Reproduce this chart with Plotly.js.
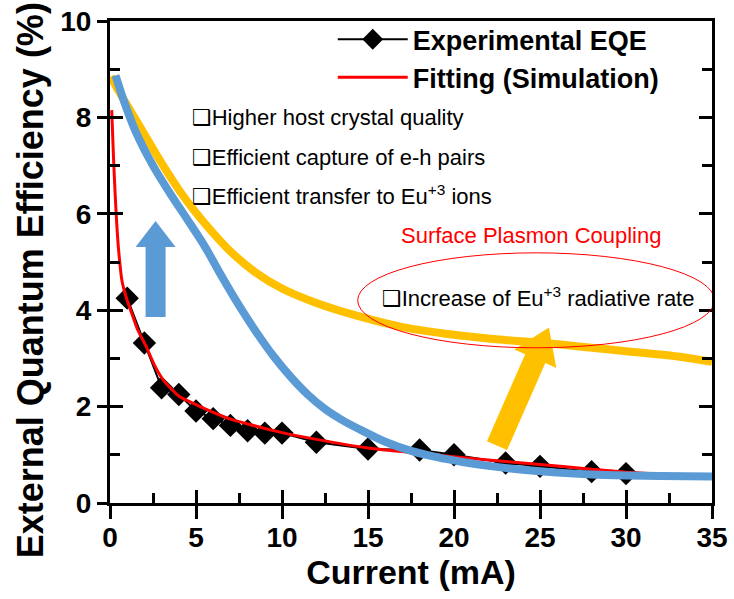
<!DOCTYPE html>
<html>
<head>
<meta charset="utf-8">
<script src="https://cdn.plot.ly/plotly-3.0.1.min.js"></script>
<style>
  html, body { margin: 0; padding: 0; background: #ffffff; }
  #chart { width: 734px; height: 599px; }
</style>
</head>
<body>
<div id="chart"></div>
<script>
// Measured external quantum efficiency vs drive current
const currentMA = [1, 2, 3, 4, 5, 6, 7, 8, 9, 10, 12, 15, 18, 20, 23, 25, 28, 30];
const eqeMeasured = [4.25, 3.32, 2.39, 2.25, 1.91, 1.75, 1.61, 1.50, 1.45, 1.45, 1.26, 1.12, 1.10, 1.00, 0.83, 0.76, 0.65, 0.61];

// Simulated fit through the measured points
const fitCurrent = [0.1, 0.2, 0.3, 0.4, 0.5, 0.7, 1, 1.3, 1.6, 2.1, 2.6, 3.1, 4, 5, 6, 7, 8, 10, 12, 15, 18, 20, 23, 25, 28, 30, 35];
const fitEqe = [8.15, 7.2, 6.4, 5.75, 5.25, 4.6, 4.2, 3.9, 3.6, 3.25, 2.85, 2.55, 2.22, 2.04, 1.88, 1.74, 1.64, 1.46, 1.32, 1.14, 1.03, 0.96, 0.86, 0.80, 0.70, 0.64, 0.56];

// Improved-host trend (blue) and plasmon-coupled trend (yellow)
const hostCurrent = [0.32, 0.8, 1.5, 2.5, 3.5, 4.5, 5.5, 6.5, 7.5, 8.5, 9.5, 10.5, 11.5, 12.5, 13.5, 14.5, 16, 17.5, 19, 20.5, 22, 24, 26, 28, 30, 32, 35];
const hostEqe = [8.87, 8.35, 7.7, 7.0, 6.42, 5.88, 5.33, 4.7, 4.1, 3.55, 3.05, 2.62, 2.25, 1.95, 1.72, 1.53, 1.27, 1.08, 0.95, 0.85, 0.77, 0.69, 0.63, 0.59, 0.57, 0.56, 0.55];
const plasmonCurrent = [0.05, 0.5, 1, 1.5, 2, 3, 4, 5, 6, 7, 8.4, 10, 12, 14.5, 17, 20, 23, 25.6, 28, 30, 33, 35];
const plasmonEqe = [8.85, 8.55, 8.25, 7.95, 7.65, 7.05, 6.5, 6.02, 5.6, 5.22, 4.8, 4.45, 4.15, 3.87, 3.65, 3.49, 3.38, 3.31, 3.22, 3.15, 3.04, 2.93];

const W = 734, H = 599;
const M = { l: 110, r: 22, t: 21, b: 96 };
const X_RANGE = [0, 35], Y_RANGE = [0, 10];
const pxPerX = (W - M.l - M.r) / (X_RANGE[1] - X_RANGE[0]);
const pxPerY = (H - M.t - M.b) / (Y_RANGE[1] - Y_RANGE[0]);

// Block arrow from tail to tip (data units); widths and head length in pixels.
function blockArrow(tail, tip, shaftW, headLen, headW) {
  const tx = tail[0] * pxPerX, ty = tail[1] * pxPerY;
  const hx = tip[0] * pxPerX, hy = tip[1] * pxPerY;
  const len = Math.hypot(hx - tx, hy - ty);
  const ux = (hx - tx) / len, uy = (hy - ty) / len;
  const nx = -uy, ny = ux;
  const bx = hx - ux * headLen, by = hy - uy * headLen;
  const pts = [
    [tx + nx * shaftW / 2, ty + ny * shaftW / 2],
    [bx + nx * shaftW / 2, by + ny * shaftW / 2],
    [bx + nx * headW / 2, by + ny * headW / 2],
    [hx, hy],
    [bx - nx * headW / 2, by - ny * headW / 2],
    [bx - nx * shaftW / 2, by - ny * shaftW / 2],
    [tx - nx * shaftW / 2, ty - ny * shaftW / 2]
  ];
  return pts.map((p, i) => (i ? 'L' : 'M') + (p[0] / pxPerX).toFixed(4) + ',' + (p[1] / pxPerY).toFixed(4)).join(' ') + ' Z';
}

const traces = [
  {
    x: currentMA, y: eqeMeasured, name: 'Experimental EQE',
    type: 'scatter', mode: 'lines+markers',
    line: { color: '#000000', width: 2 },
    marker: { symbol: 'diamond', size: 18, color: '#000000' }
  },
  {
    x: fitCurrent, y: fitEqe, name: 'Fitting (Simulation)',
    type: 'scatter', mode: 'lines',
    line: { color: '#ff0000', width: 3, shape: 'spline', smoothing: 0.6 }
  },
  {
    x: plasmonCurrent, y: plasmonEqe, name: 'Surface plasmon trend', showlegend: false,
    type: 'scatter', mode: 'lines', hoverinfo: 'skip',
    line: { color: '#ffc000', width: 8, shape: 'spline', smoothing: 0.8 }
  },
  {
    x: hostCurrent, y: hostEqe, name: 'Host quality trend', showlegend: false,
    type: 'scatter', mode: 'lines', hoverinfo: 'skip',
    line: { color: '#5b9bd5', width: 8, shape: 'spline', smoothing: 0.8 }
  },
  // empty trace that holds the inner tick axes
  { x: [null], y: [null], xaxis: 'x2', yaxis: 'y2', type: 'scatter', mode: 'lines',
    showlegend: false, hoverinfo: 'skip' }
];

const boldFont = { family: 'Liberation Sans, Arial, sans-serif', color: '#000000', weight: 'bold' };
const textFont = { family: 'Liberation Sans, Arial, sans-serif', color: '#000000', size: 22 };
const box = '<span style="font-family:DejaVu Sans">❑</span>';

const layout = {
  width: W, height: H,
  margin: M,
  paper_bgcolor: '#ffffff', plot_bgcolor: '#ffffff',
  font: { family: 'Liberation Sans, Arial, sans-serif', color: '#000000' },
  showlegend: true,
  legend: {
    x: 0.37, y: 1.012, xanchor: 'left', yanchor: 'top',
    bgcolor: 'rgba(0,0,0,0)', borderwidth: 0,
    itemwidth: 70, tracegroupgap: 0,
    font: Object.assign({ size: 27 }, boldFont)
  },
  xaxis: {
    range: X_RANGE, tick0: 0, dtick: 5,
    ticks: 'outside', ticklen: 13, tickwidth: 3, tickcolor: '#000000',
    showline: true, linewidth: 3, linecolor: '#000000', mirror: true,
    showgrid: false, zeroline: false, ticklabelstandoff: -6,
    tickfont: Object.assign({ size: 28 }, boldFont),
    title: { text: 'Current (mA)', font: Object.assign({ size: 34 }, boldFont), standoff: 6 }
  },
  yaxis: {
    range: Y_RANGE, tick0: 0, dtick: 2,
    ticks: 'outside', ticklen: 10, tickwidth: 3, tickcolor: '#000000',
    showline: true, linewidth: 3, linecolor: '#000000', mirror: true,
    showgrid: false, zeroline: false,
    tickfont: Object.assign({ size: 28 }, boldFont)
  },
  xaxis2: {
    overlaying: 'x', anchor: 'y2', range: X_RANGE, tick0: 0, dtick: 5,
    ticks: 'inside', ticklen: 13, tickwidth: 3, tickcolor: '#000000',
    minor: { ticks: 'inside', dtick: 2.5, ticklen: 10, tickwidth: 3, tickcolor: '#000000' },
    showticklabels: false, showline: false, showgrid: false, zeroline: false
  },
  yaxis2: {
    overlaying: 'y', anchor: 'x2', range: Y_RANGE, tick0: 0, dtick: 2,
    ticks: 'inside', ticklen: 13, tickwidth: 3, tickcolor: '#000000',
    minor: { ticks: 'inside', dtick: 1, ticklen: 10, tickwidth: 3, tickcolor: '#000000' },
    mirror: 'ticks',
    showticklabels: false, showline: false, showgrid: false, zeroline: false
  },
  shapes: [
    {
      type: 'path', xref: 'x', yref: 'y', layer: 'above',
      path: blockArrow([2.65, 3.86], [2.65, 5.85], 20, 26, 40),
      fillcolor: '#5b9bd5', line: { width: 0 }
    },
    {
      type: 'path', xref: 'x', yref: 'y', layer: 'above',
      path: blockArrow([22.5, 1.19], [25.52, 3.64], 22, 34, 46),
      fillcolor: '#ffc000', line: { width: 0 }
    },
    {
      type: 'circle', xref: 'x', yref: 'y', layer: 'above',
      x0: 14.4, x1: 35.15, y0: 3.22, y1: 5.19,
      line: { color: '#ff0000', width: 1 }, fillcolor: 'rgba(0,0,0,0)'
    }
  ],
  annotations: [
    {
      xref: 'paper', yref: 'paper', x: -0.133, y: 0.462,
      xanchor: 'center', yanchor: 'middle', textangle: -90, showarrow: false,
      text: 'External Quantum Efficiency (%)',
      font: Object.assign({ size: 36 }, boldFont)
    },
    { x: 4.65, y: 8.0, xref: 'x', yref: 'y', xanchor: 'left', yanchor: 'middle', showarrow: false,
      text: box + 'Higher host crystal quality', font: textFont },
    { x: 4.65, y: 7.17, xref: 'x', yref: 'y', xanchor: 'left', yanchor: 'middle', showarrow: false,
      text: box + 'Efficient capture of e-h pairs', font: textFont },
    { x: 4.65, y: 6.38, xref: 'x', yref: 'y', xanchor: 'left', yanchor: 'middle', showarrow: false,
      text: box + 'Efficient transfer to Eu<sup>+3</sup> ions', font: textFont },
    { x: 24.48, y: 5.54, xref: 'x', yref: 'y', xanchor: 'center', yanchor: 'middle', showarrow: false,
      text: 'Surface Plasmon Coupling', font: { family: textFont.family, size: 22, color: '#ff0000' } },
    { x: 15.7, y: 4.27, xref: 'x', yref: 'y', xanchor: 'left', yanchor: 'middle', showarrow: false,
      text: box + 'Increase of Eu<sup>+3</sup> radiative rate', font: textFont }
  ]
};

Plotly.newPlot('chart', traces, layout, { displayModeBar: false, staticPlot: true });
</script>
</body>
</html>
